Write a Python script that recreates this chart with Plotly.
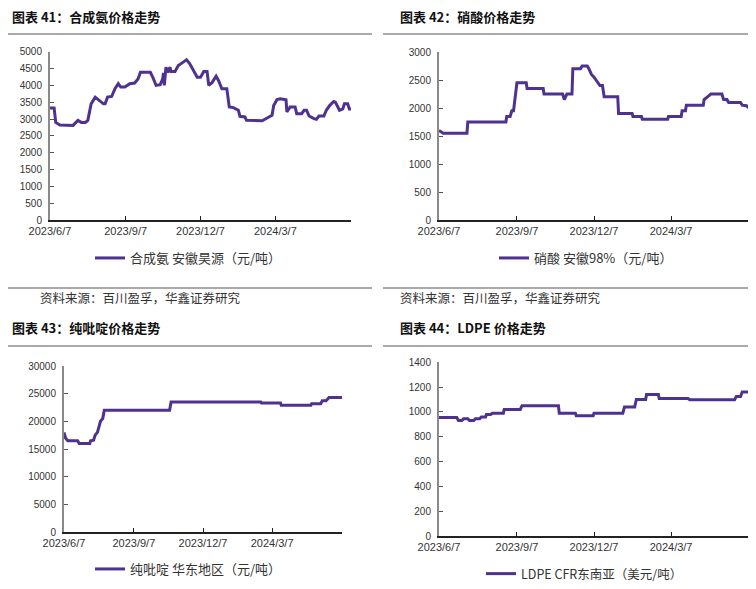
import plotly.graph_objects as go

# ---------------- data ----------------
nh3_dates = ["2023-06-07", "2023-06-12", "2023-06-14", "2023-06-19", "2023-07-05", "2023-07-09", "2023-07-11",
             "2023-07-15", "2023-07-20", "2023-07-23", "2023-07-27", "2023-08-01", "2023-08-05", "2023-08-11",
             "2023-08-13", "2023-08-16", "2023-08-21", "2023-08-25", "2023-08-29", "2023-09-01", "2023-09-06",
             "2023-09-12", "2023-09-18", "2023-09-22", "2023-09-25", "2023-10-07", "2023-10-10", "2023-10-14",
             "2023-10-19", "2023-10-22", "2023-10-23", "2023-10-24", "2023-10-26", "2023-10-28", "2023-10-31",
             "2023-11-01", "2023-11-06", "2023-11-10", "2023-11-16", "2023-11-20", "2023-11-24", "2023-11-28",
             "2023-12-03", "2023-12-07", "2023-12-11", "2023-12-15", "2023-12-17", "2023-12-21", "2023-12-26",
             "2023-12-29", "2024-01-02", "2024-01-08", "2024-01-11", "2024-01-16", "2024-01-22", "2024-01-24",
             "2024-01-30", "2024-02-01", "2024-02-20", "2024-02-26", "2024-03-03", "2024-03-05", "2024-03-09",
             "2024-03-13", "2024-03-20", "2024-03-21", "2024-03-25", "2024-03-31", "2024-04-02", "2024-04-08",
             "2024-04-11", "2024-04-14", "2024-04-17", "2024-04-23", "2024-04-26", "2024-04-29", "2024-05-05",
             "2024-05-08", "2024-05-12", "2024-05-17", "2024-05-19", "2024-05-24", "2024-05-28", "2024-05-30",
             "2024-06-03", "2024-06-05", "2024-06-07"]
nh3_vals = [3330, 3330, 2900, 2820, 2810, 2930, 2960,
            2900, 2900, 2960, 3450, 3650, 3580, 3450,
            3450, 3650, 3670, 3900, 4050, 3950, 3950,
            4050, 4070, 4190, 4390, 4390, 4240, 4000,
            4020, 4190, 4370, 4000, 4540, 4390, 4540,
            4410, 4410, 4590, 4690, 4760, 4640, 4440,
            4240, 4240, 4410, 4410, 4000, 4080, 4270,
            4140, 3900, 3900, 3360, 3340, 3260, 3080,
            3060, 2960, 2950, 3030, 3110, 3400, 3580,
            3600, 3570, 3210, 3360, 3360, 3160, 3160,
            3260, 3260, 3090, 3010, 2990, 3090, 3090,
            3260, 3400, 3520, 3500, 3260, 3300, 3450,
            3450, 3300, 3300]

hno3_dates = ["2023-06-07", "2023-06-10", "2023-06-12", "2023-07-10", "2023-07-11", "2023-08-25", "2023-08-26",
              "2023-08-30", "2023-09-01", "2023-09-03", "2023-09-07", "2023-09-18", "2023-09-19", "2023-10-08",
              "2023-10-09", "2023-10-31", "2023-11-02", "2023-11-05", "2023-11-11", "2023-11-12", "2023-11-21",
              "2023-11-23", "2023-11-29", "2023-12-01", "2023-12-04", "2023-12-07", "2023-12-11", "2023-12-14",
              "2023-12-17", "2023-12-19", "2024-01-04", "2024-01-05", "2024-01-21", "2024-01-22", "2024-02-01",
              "2024-02-02", "2024-03-03", "2024-03-04", "2024-03-19", "2024-03-20", "2024-03-24", "2024-03-25",
              "2024-04-14", "2024-04-15", "2024-04-19", "2024-04-23", "2024-05-06", "2024-05-08", "2024-05-12",
              "2024-05-14", "2024-05-28", "2024-05-30", "2024-06-04", "2024-06-07"]
hno3_vals = [1600, 1560, 1550, 1550, 1750, 1750, 1850,
             1850, 1950, 1950, 2450, 2450, 2350, 2350,
             2250, 2250, 2150, 2250, 2250, 2700, 2700,
             2750, 2750, 2700, 2600, 2550, 2450, 2400,
             2400, 2200, 2200, 1900, 1900, 1850, 1850,
             1800, 1800, 1850, 1850, 1950, 1950, 2050,
             2050, 2150, 2200, 2250, 2250, 2150, 2150,
             2100, 2100, 2050, 2040, 2000]

pyr_dates = ["2023-06-07", "2023-06-09", "2023-06-12", "2023-06-25", "2023-06-27", "2023-07-11", "2023-07-12",
             "2023-07-16", "2023-07-18", "2023-07-21", "2023-07-23", "2023-07-25", "2023-07-28", "2023-07-30",
             "2023-10-24", "2023-10-26", "2024-02-21", "2024-02-22", "2024-03-18", "2024-03-19", "2024-04-27",
             "2024-04-28", "2024-05-10", "2024-05-12", "2024-05-17", "2024-05-21", "2024-06-07"]
pyr_vals = [18000, 17000, 16500, 16500, 16000, 16000, 16500,
            16600, 17500, 18000, 19000, 20000, 20500, 22000,
            22000, 23500, 23500, 23300, 23300, 22900, 22900,
            23200, 23200, 23700, 23700, 24300, 24300]

ldpe_dates = ["2023-06-07", "2023-06-28", "2023-06-30", "2023-07-04", "2023-07-06", "2023-07-11", "2023-07-13",
              "2023-07-18", "2023-07-20", "2023-07-25", "2023-07-27", "2023-08-01", "2023-08-02", "2023-08-07",
              "2023-08-09", "2023-08-22", "2023-08-23", "2023-09-11", "2023-09-13", "2023-10-26", "2023-10-27",
              "2023-11-15", "2023-11-16", "2023-12-06", "2023-12-07", "2024-01-10", "2024-01-12", "2024-01-24",
              "2024-01-26", "2024-02-06", "2024-02-07", "2024-02-21", "2024-02-22", "2024-03-27", "2024-03-29",
              "2024-05-21", "2024-05-23", "2024-05-28", "2024-05-30", "2024-06-07"]
ldpe_vals = [955, 955, 930, 930, 945, 945, 930,
             930, 945, 945, 960, 960, 980, 980,
             990, 990, 1020, 1020, 1050, 1050, 990,
             990, 970, 970, 990, 990, 1040, 1040,
             1100, 1100, 1140, 1140, 1108, 1108, 1098,
             1098, 1125, 1125, 1160, 1160]

tick_dates = ["2023-06-07", "2023-09-07", "2023-12-07", "2024-03-07", "2024-06-07"]
tick_labels = ["2023/6/7", "2023/9/7", "2023/12/7", "2024/3/7", ""]

titles = ["图表 41：合成氨价格走势", "图表 42：硝酸价格走势", "图表 43：纯吡啶价格走势", "图表 44：LDPE 价格走势"]
series_names = ["合成氨 安徽昊源（元/吨）", "硝酸 安徽98%（元/吨）", "纯吡啶 华东地区（元/吨）", "LDPE CFR东南亚（美元/吨）"]
source_text = "资料来源：百川盈孚，华鑫证券研究"
y_max = [5000, 3000, 30000, 1400]
y_step = [500, 500, 5000, 200]

# ---------------- layout helpers ----------------
# the html page keeps the browser's default 8px body margin, so the figure
# is sized to the window minus that offset and positions are shifted by it
OFF = 8
W, H = 756 - OFF, 589 - OFF
def px(x):
    return (x - OFF) / W
def py(y):
    return 1 - (y - OFF) / H

LINE = "#4F3190"
CJK = "Noto Sans CJK SC"
NUM = "Liberation Sans, Arial"

# plot boxes: (left, right, top, bottom) in page pixels
boxes = [(50, 351, 51.7, 220), (439, 749, 52, 220), (64, 342, 366, 532), (439, 749, 362.3, 536)]
legend_pos = [(90, 258), (494, 258), (90, 569), (481, 574)]
legend_size = [13, 13, 13, 12.5]
title_pos = [(10, 16), (398, 16), (10, 327), (398, 327)]

data = [(nh3_dates, nh3_vals), (hno3_dates, hno3_vals), (pyr_dates, pyr_vals), (ldpe_dates, ldpe_vals)]

fig = go.Figure()
layout = dict(width=W, height=H, margin=dict(l=0, r=0, t=0, b=0, autoexpand=False),
              paper_bgcolor="white", plot_bgcolor="white", showlegend=True)

for i, ((d, v), box) in enumerate(zip(data, boxes)):
    n = "" if i == 0 else str(i + 1)
    lg = "legend" if i == 0 else "legend" + str(i + 1)
    fig.add_trace(go.Scatter(x=d, y=v, mode="lines", name=series_names[i],
                             line=dict(color=LINE, width=3),
                             xaxis="x" + n, yaxis="y" + n, legend=lg,
                             hoverinfo="x+y"))
    l, r, t, b = box
    layout["xaxis" + n] = dict(domain=[px(l), px(r)], anchor="y" + n, type="date",
                               range=["2023-06-07", "2024-06-07"], automargin=False,
                               tickmode="array", tickvals=tick_dates, ticktext=tick_labels,
                               ticks="inside", ticklen=4, tickwidth=1, tickcolor="#222",
                               showline=True, linecolor="#222", linewidth=1.5,
                               showgrid=False, zeroline=False,
                               tickfont=dict(family=NUM, size=11, color="#333"))
    layout["yaxis" + n] = dict(domain=[py(b), py(t)], anchor="x" + n, automargin=False,
                               range=[0, y_max[i]], dtick=y_step[i], tick0=0, tickformat="d",
                               ticks="inside", ticklen=4, tickwidth=1, tickcolor="#555",
                               showline=True, linecolor="#8a8a8a", linewidth=2,
                               showgrid=False, zeroline=False, ticklabelstandoff=4,
                               tickfont=dict(family=NUM, size=10, color="#333"))
    lx, ly = legend_pos[i]
    layout[lg] = dict(x=px(lx), y=py(ly), xanchor="left", yanchor="middle",
                      orientation="h", bgcolor="rgba(0,0,0,0)",
                      font=dict(family=CJK, size=legend_size[i], color="#333"))

fig.update_layout(**layout)

# titles
for i, (tx, ty) in enumerate(title_pos):
    fig.add_annotation(text="<b>" + titles[i] + "</b>", x=px(tx), y=py(ty), xref="paper", yref="paper",
                       xanchor="left", yanchor="middle", showarrow=False,
                       font=dict(family=CJK, size=13, color="#111"))

# source notes (top row)
for sx in (38, 398):
    fig.add_annotation(text=source_text, x=px(sx), y=py(297), xref="paper", yref="paper",
                       xanchor="left", yanchor="middle", showarrow=False,
                       font=dict(family=CJK, size=12.5, color="#333"))

# separator rules
rules = [(0, 372, 34), (383, 756, 34), (0, 372, 288), (383, 756, 288), (0, 372, 346), (383, 756, 346)]
for x0, x1, yy in rules:
    fig.add_shape(type="line", xref="paper", yref="paper", x0=px(max(x0, OFF)), x1=px(x1), y0=py(yy), y1=py(yy),
                  line=dict(color="#555", width=1))

fig.write_html("out.html")
